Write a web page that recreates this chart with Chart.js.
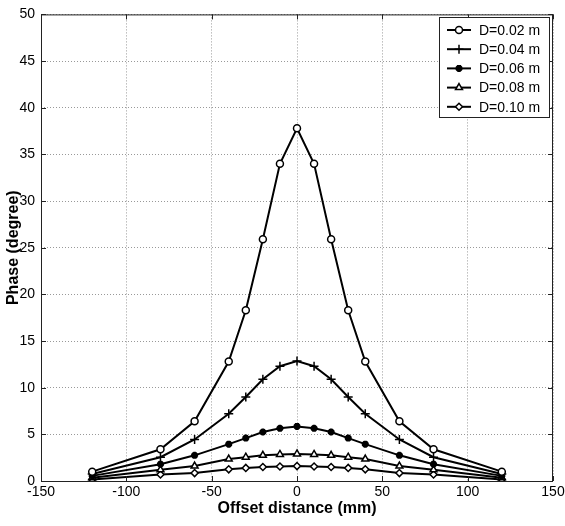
<!DOCTYPE html>
<html>
<head>
<meta charset="utf-8">
<script src="https://cdn.jsdelivr.net/npm/chart.js@4/dist/chart.umd.min.js"></script>
<style>
  html, body { margin: 0; padding: 0; background: #fff; }
  #wrap { width: 565px; height: 526px; }
</style>
</head>
<body>
<div id="wrap"><canvas id="phaseChart" width="565" height="526"></canvas></div>
<script>
// Offset positions (mm) and phase (degree) for each diameter
const offsets = [-120, -80, -60, -40, -30, -20, -10, 0, 10, 20, 30, 40, 60, 80, 120];
const seriesLabels = ['D=0.02 m', 'D=0.04 m', 'D=0.06 m', 'D=0.08 m', 'D=0.10 m'];
const phaseD002 = [1.0, 3.4, 6.4, 12.8, 18.3, 25.9, 34.0, 37.8, 34.0, 25.9, 18.3, 12.8, 6.4, 3.4, 1.0];
const phaseD004 = [0.75, 2.55, 4.45, 7.2, 9.0, 10.9, 12.3, 12.85, 12.3, 10.9, 9.0, 7.2, 4.45, 2.55, 0.75];
const phaseD006 = [0.55, 1.8, 2.75, 3.95, 4.6, 5.25, 5.65, 5.85, 5.65, 5.25, 4.6, 3.95, 2.75, 1.8, 0.55];
const phaseD008 = [0.35, 1.2, 1.6, 2.35, 2.55, 2.75, 2.85, 2.9, 2.85, 2.75, 2.55, 2.35, 1.6, 1.2, 0.35];
const phaseD010 = [0.15, 0.7, 0.85, 1.25, 1.4, 1.5, 1.55, 1.6, 1.55, 1.5, 1.4, 1.25, 0.85, 0.7, 0.15];
const xTicks = [-150, -100, -50, 0, 50, 100, 150];
const yTicks = [0, 5, 10, 15, 20, 25, 30, 35, 40, 45, 50];

const allPhases = [phaseD002, phaseD004, phaseD006, phaseD008, phaseD010];
const markers = [
    { style: 'circle', radius: 3.5, width: 1.5 },
    { style: 'cross', radius: 4.5, width: 1.5 },
    { style: 'star', radius: 3.5, width: 2.5 },
    { style: 'triangle', radius: 4, width: 1.5 },
    { style: 'rectRot', radius: 3.5, width: 1.5 }
];

const datasets = allPhases.map((vals, i) => ({
    label: seriesLabels[i],
    data: offsets.map((x, j) => ({ x: x, y: vals[j] })),
    borderColor: '#000',
    borderWidth: 2,
    backgroundColor: '#fff',
    pointStyle: markers[i].style,
    pointRadius: markers[i].radius,
    pointBorderWidth: markers[i].width,
    pointBorderColor: '#000',
    pointBackgroundColor: '#fff',
    tension: 0
}));

// Box frame with inward ticks, MATLAB style
const framePlugin = {
    id: 'frame',
    afterDatasetsDraw(chart) {
        const { ctx, chartArea: a, scales } = chart;
        ctx.save();
        ctx.strokeStyle = '#222';
        ctx.lineWidth = 1;
        ctx.strokeRect(a.left + 0.5, a.top + 0.5, a.right - a.left - 1, a.bottom - a.top);
        ctx.beginPath();
        xTicks.forEach(v => {
            const px = Math.round(scales.x.getPixelForValue(v)) + 0.5;
            ctx.moveTo(px, a.bottom); ctx.lineTo(px, a.bottom - 5);
            ctx.moveTo(px, a.top); ctx.lineTo(px, a.top + 5);
        });
        yTicks.forEach(v => {
            const py = Math.round(scales.y.getPixelForValue(v)) + 0.5;
            ctx.moveTo(a.left, py); ctx.lineTo(a.left + 5, py);
            ctx.moveTo(a.right, py); ctx.lineTo(a.right - 5, py);
        });
        ctx.stroke();
        ctx.restore();
    }
};

// Legend box: line sample with marker, then label
const legendPlugin = {
    id: 'boxLegend',
    afterDraw(chart) {
        const { ctx } = chart;
        const box = { x: 439.5, y: 17.5, w: 110, h: 100 };
        ctx.save();
        ctx.fillStyle = '#fff';
        ctx.fillRect(box.x, box.y, box.w, box.h);
        ctx.strokeStyle = '#222';
        ctx.lineWidth = 1;
        ctx.strokeRect(box.x, box.y, box.w, box.h);
        ctx.font = '14px "Liberation Sans", Arial, sans-serif';
        ctx.textBaseline = 'middle';
        chart.data.datasets.forEach((ds, i) => {
            const y = 30 + i * 19.2;
            ctx.strokeStyle = '#000';
            ctx.lineWidth = 2;
            ctx.beginPath();
            ctx.moveTo(447, y); ctx.lineTo(471, y);
            ctx.stroke();
            ctx.fillStyle = '#fff';
            ctx.lineWidth = ds.pointBorderWidth;
            Chart.helpers.drawPoint(ctx, {
                pointStyle: ds.pointStyle,
                radius: ds.pointRadius,
                borderWidth: ds.pointBorderWidth,
                rotation: 0
            }, 459, y);
            ctx.fillStyle = '#000';
            ctx.fillText(ds.label, 479, y + 1);
        });
        ctx.restore();
    }
};

const tickFont = { family: '"Liberation Sans", Arial, sans-serif', size: 14 };
const titleFont = { family: '"Liberation Sans", Arial, sans-serif', size: 16, weight: 'bold' };

new Chart(document.getElementById('phaseChart'), {
    type: 'line',
    data: { datasets: datasets },
    options: {
        responsive: false,
        animation: false,
        events: [],
        layout: { padding: { top: 11, right: 12, left: 0, bottom: 0 } },
        plugins: { legend: { display: false }, tooltip: { enabled: false } },
        scales: {
            x: {
                type: 'linear',
                min: -150,
                max: 150,
                afterBuildTicks: s => { s.ticks = xTicks.map(v => ({ value: v })); },
                afterFit: s => { s.height = 45; s.paddingRight = 0; s.paddingLeft = 0; },
                ticks: { color: '#000', font: tickFont, padding: 3, maxRotation: 0 },
                grid: { color: '#999', lineWidth: 1, drawTicks: false },
                border: { display: false, dash: [1, 2] },
                title: { display: true, text: 'Offset distance (mm)', color: '#000', font: titleFont, padding: { top: 2, bottom: 8 } }
            },
            y: {
                min: 0,
                max: 50,
                afterBuildTicks: s => { s.ticks = yTicks.map(v => ({ value: v })); },
                afterFit: s => { s.width = 41; },
                ticks: { color: '#000', font: tickFont, padding: 6 },
                grid: { color: '#999', lineWidth: 1, drawTicks: false },
                border: { display: false, dash: [1, 2] },
                title: { display: true, text: 'Phase (degree)', color: '#000', font: titleFont, padding: { top: 4, bottom: 2 } }
            }
        }
    },
    plugins: [framePlugin, legendPlugin]
});
</script>
</body>
</html>
